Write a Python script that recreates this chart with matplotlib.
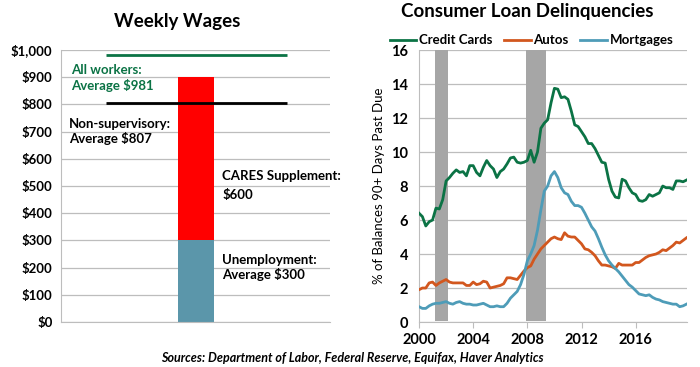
import numpy as np
import matplotlib
matplotlib.use("Agg")
import matplotlib.pyplot as plt

plt.rcParams["font.family"] = ["Lato", "DejaVu Sans"]

# --- left panel: weekly wages ---
wage_levels = {"all": 981, "nonsup": 807}
unemployment = 300
cares = 600
wage_ticks = [0, 100, 200, 300, 400, 500, 600, 700, 800, 900, 1000]
wage_ticklabels = ["$0", "$100", "$200", "$300", "$400", "$500", "$600",
                   "$700", "$800", "$900", "$1,000"]

# --- right panel: delinquencies, quarterly 2000Q1..2019Q4 ---
credit_cards = [
    6.4, 6.2, 5.65, 5.9,
    6.0, 6.7, 6.65, 7.2,
    8.3, 8.5, 8.75, 8.95,
    8.8, 8.85, 8.6, 9.2,
    9.2, 8.8, 8.6, 9.1,
    9.5, 9.2, 9.0, 8.5,
    8.85, 9.0, 9.3, 9.65,
    9.7, 9.4, 9.35, 9.4,
    9.5, 10.1, 9.4, 10.0,
    11.4, 11.7, 11.9, 12.9,
    13.75, 13.7, 13.2, 13.25,
    13.1, 12.4, 11.6, 11.5,
    11.2, 10.9, 10.5, 10.5,
    10.2, 9.8, 9.4, 9.35,
    8.4, 7.7, 7.35, 7.3,
    8.4, 8.3, 7.9, 7.6,
    7.5, 7.15, 7.1, 7.2,
    7.5, 7.4, 7.5, 7.6,
    8.0, 7.9, 7.9, 7.8,
    8.3, 8.3, 8.25, 8.35,
]
autos = [
    1.9, 2.0, 2.0, 2.3,
    2.35, 2.15, 2.3, 2.4,
    2.5, 2.35, 2.3, 2.3,
    2.3, 2.3, 2.15, 2.15,
    2.35, 2.2, 2.25, 2.4,
    2.35, 2.0, 2.05, 2.1,
    2.15, 2.25, 2.6, 2.6,
    2.55, 2.5, 2.75, 3.0,
    3.2, 3.3, 3.7, 4.0,
    4.3, 4.5, 4.7, 4.9,
    5.0, 4.9, 4.85, 5.25,
    5.05, 5.0, 5.0, 4.8,
    4.6, 4.3, 4.25, 4.1,
    3.9, 3.6, 3.35, 3.35,
    3.3, 3.25, 3.15, 3.45,
    3.35, 3.35, 3.35, 3.35,
    3.5, 3.5, 3.65, 3.8,
    3.9, 3.95, 4.0, 4.1,
    4.25, 4.2, 4.35, 4.5,
    4.7, 4.65, 4.8, 4.95,
]
mortgages = [
    0.9, 0.8, 0.8, 0.95,
    1.05, 1.1, 1.1, 1.15,
    1.2, 1.1, 1.05, 1.15,
    1.2, 1.1, 1.05, 1.05,
    1.0, 1.0, 1.05, 1.1,
    1.0, 0.9, 0.9, 0.95,
    0.9, 0.9, 1.1, 1.4,
    1.6, 1.8, 2.2, 2.8,
    3.6, 4.0, 4.5, 5.4,
    6.6, 7.7, 8.0, 8.6,
    8.85, 8.5, 7.9, 7.6,
    7.5, 7.1, 6.85, 6.85,
    6.75, 6.4, 6.0, 5.6,
    5.35, 4.9, 4.4, 3.95,
    3.6, 3.35, 3.15, 2.95,
    2.7, 2.45, 2.2, 2.05,
    1.85, 1.65, 1.6, 1.55,
    1.6, 1.45, 1.35, 1.3,
    1.2, 1.15, 1.1, 1.05,
    1.05, 0.9, 0.95, 1.05,
]
quarters = 2000 + np.arange(len(credit_cards)) * 0.25
recessions = [(2001.2, 2002.15), (2007.9, 2009.4)]
year_ticks = [2000, 2004, 2008, 2012, 2016]

GREEN = "#0B7345"
ORANGE = "#D2571E"
BLUE = "#4E9CB8"
GRID = "#BDBDBD"

fig = plt.figure(figsize=(7, 3.67), dpi=100)

# ---------------- weekly wages ----------------
ax1 = fig.add_axes([0.087, 0.1226, 0.384, 0.741])
ax1.bar(0.502, unemployment, width=0.134, color="#5B96AA")
ax1.bar(0.502, cares, width=0.134, bottom=unemployment, color="#FF0000")
ax1.hlines(wage_levels["all"], 0.167, 0.84, color=GREEN, lw=2)
ax1.hlines(wage_levels["nonsup"], 0.167, 0.84, color="black", lw=2)
ax1.set_xlim(0, 1)
ax1.set_ylim(0, 1000)
ax1.set_yticks(wage_ticks)
ax1.set_yticklabels(wage_ticklabels, fontsize=9.5, fontweight="bold")
ax1.set_xticks([])
ax1.grid(axis="y", color=GRID, lw=0.9)
ax1.set_axisbelow(True)
for s in ["top", "right"]:
    ax1.spines[s].set_visible(False)
ax1.spines["left"].set_color(GRID)
ax1.spines["bottom"].set_color(GRID)
ax1.tick_params(axis="y", length=0, pad=6)

txt = dict(fontsize=9.5, fontweight="bold", va="center", ha="left")
ax1.text(0.037, 926, "All workers:", color=GREEN, **txt)
ax1.text(0.037, 871, "Average $981", color=GREEN, **txt)
ax1.text(0.03, 728, "Non-supervisory:", color="black", **txt)
ax1.text(0.03, 673, "Average $807", color="black", **txt)
ax1.text(0.60, 537, "CARES Supplement:", color="black", **txt)
ax1.text(0.60, 467, "$600", color="black", **txt)
ax1.text(0.60, 228, "Unemployment:", color="black", **txt)
ax1.text(0.60, 173, "Average $300", color="black", **txt)

fig.text(177 / 700, 1 - 22 / 367, "Weekly Wages", fontsize=13.5,
         fontweight="bold", ha="center", va="center")

# ---------------- delinquencies ----------------
ax2 = fig.add_axes([0.5986, 0.1226, 0.383, 0.741])
for a, b in recessions:
    ax2.axvspan(a, b, ymin=0.005, ymax=1, color="#A6A6A6", lw=0, zorder=1)
ax2.plot(quarters, credit_cards, color=GREEN, lw=2, label="Credit Cards", zorder=3)
ax2.plot(quarters, autos, color=ORANGE, lw=2, label="Autos", zorder=3)
ax2.plot(quarters, mortgages, color=BLUE, lw=2, label="Mortgages", zorder=3)
ax2.set_xlim(2000, 2019.8)
ax2.set_ylim(0, 16)
ax2.set_yticks(range(0, 17, 2))
ax2.set_xticks(year_ticks)
ax2.set_xticklabels([str(y) for y in year_ticks], fontsize=10.5, fontweight="bold")
ax2.set_yticklabels([str(v) for v in range(0, 17, 2)], fontsize=10.5,
                    fontweight="bold")
ax2.grid(axis="y", color=GRID, lw=0.9, zorder=0)
ax2.set_axisbelow(True)
for s in ["top", "right"]:
    ax2.spines[s].set_visible(False)
ax2.spines["left"].set_color(GRID)
ax2.spines["bottom"].set_color(GRID)
ax2.tick_params(axis="y", length=0, pad=8)
ax2.tick_params(axis="x", length=4, color=GRID, pad=4)
ax2.set_ylabel("% of Balances 90+ Days Past Due", fontsize=9.5, labelpad=4)
ax2.legend(loc="lower center", bbox_to_anchor=(0.42, 0.995), ncol=3,
           frameon=False, handlelength=2.0, handletextpad=0.2,
           columnspacing=0.9, borderaxespad=0,
           prop={"weight": "bold", "size": 9.5})

fig.text(527 / 700, 1 - 12 / 367, "Consumer Loan Delinquencies", fontsize=13.5,
         fontweight="bold", ha="center", va="center")

fig.text(352 / 700, 1 - 358 / 367,
         "Sources: Department of Labor, Federal Reserve, Equifax, Haver Analytics",
         fontsize=9, fontweight="bold", style="italic", ha="center", va="center")

fig.savefig("out.png", dpi=100)
